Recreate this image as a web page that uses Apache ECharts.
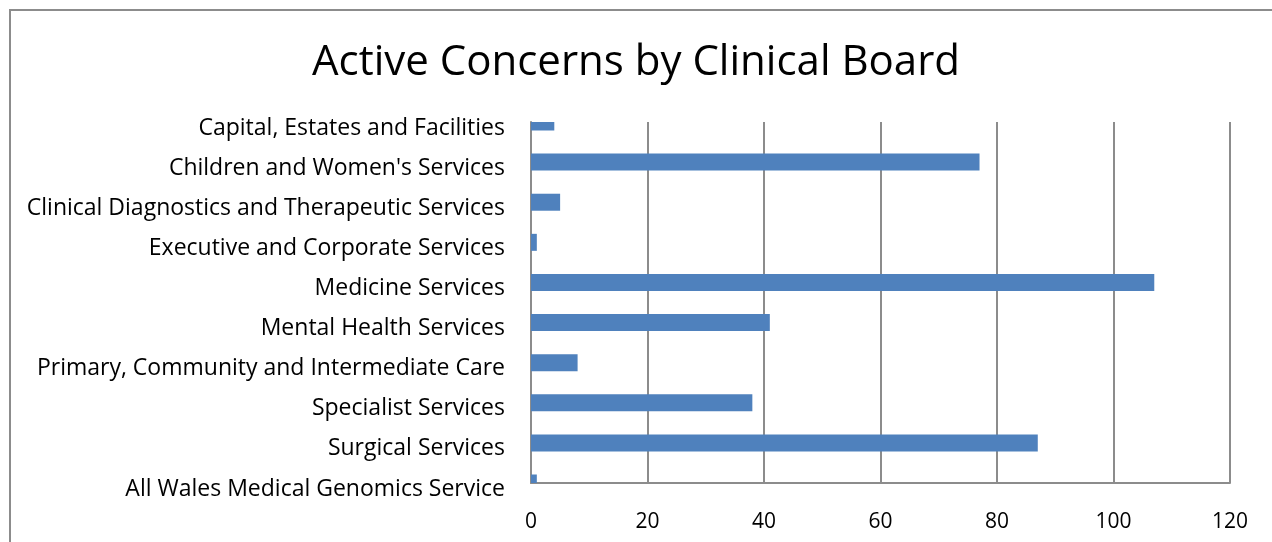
<!DOCTYPE html>
<html>
<head>
<meta charset="utf-8">
<title>Active Concerns by Clinical Board</title>
<script src="https://cdn.jsdelivr.net/npm/echarts@6/dist/echarts.min.js"></script>
<style>
  html, body { margin: 0; padding: 0; background: #fff; }
  #chart { width: 1272px; height: 542px; }
</style>
</head>
<body>
<div id="chart"></div>
<script>
// categories top to bottom, as in the picture
const boards = [
  'Capital, Estates and Facilities',
  "Children and Women's Services",
  'Clinical Diagnostics and Therapeutic Services',
  'Executive and Corporate Services',
  'Medicine Services',
  'Mental Health Services',
  'Primary, Community and Intermediate Care',
  'Specialist Services',
  'Surgical Services',
  'All Wales Medical Genomics Service'
]
const concerns = [4, 77, 5, 1, 107, 41, 8, 38, 87, 1]
const axisMin = 0
const axisMax = 120
const axisStep = 20

const font = 'Open Sans'
const gridColor = '#8c8c8c'
const barColor = '#4f81bd'
const barThickness = 17

const chart = echarts.init(document.getElementById('chart'))

chart.setOption({
  animation: false,
  backgroundColor: '#fff',
  title: {
    text: 'Active Concerns by Clinical Board',
    left: 'center',
    top: 37,
    textStyle: {
      fontFamily: font,
      fontSize: 42,
      fontWeight: 'normal',
      color: '#000'
    }
  },
  // outer frame, only left and top edges fall inside the picture
  graphic: [{
    type: 'rect',
    shape: { x: 10, y: 10, width: 1400, height: 700 },
    style: { fill: 'none', stroke: gridColor, lineWidth: 2 },
    silent: true
  }],
  grid: {
    left: 531,
    right: 42,
    top: 122,
    bottom: 59,
    containLabel: false
  },
  xAxis: {
    type: 'value',
    min: axisMin,
    max: axisMax,
    interval: axisStep,
    axisLine: { show: true, lineStyle: { color: gridColor, width: 2 } },
    axisTick: { show: false },
    axisLabel: {
      margin: 29,
      fontFamily: font,
      fontSize: 21,
      color: '#000'
    },
    splitLine: { show: true, lineStyle: { color: gridColor, width: 2 } }
  },
  yAxis: {
    type: 'category',
    data: boards,
    inverse: true,
    boundaryGap: false,
    axisLine: { show: true, lineStyle: { color: gridColor, width: 2 } },
    axisTick: { show: false },
    splitLine: { show: false },
    axisLabel: {
      margin: 26,
      fontFamily: font,
      fontSize: 23,
      color: '#000',
      verticalAlign: 'top',
      lineHeight: 12
    }
  },
  series: [{
    // custom bars so the first and last ones get cut at the plot edge
    type: 'custom',
    clip: true,
    encode: { x: 0, y: 1 },
    data: concerns.map((v, i) => [v, i]),
    renderItem(params, api) {
      const start = api.coord([axisMin, api.value(1)])
      const end = api.coord([api.value(0), api.value(1)])
      return {
        type: 'rect',
        shape: {
          x: start[0],
          y: start[1] - barThickness / 2,
          width: end[0] - start[0],
          height: barThickness
        },
        style: { fill: barColor }
      }
    }
  }]
})
</script>
</body>
</html>
